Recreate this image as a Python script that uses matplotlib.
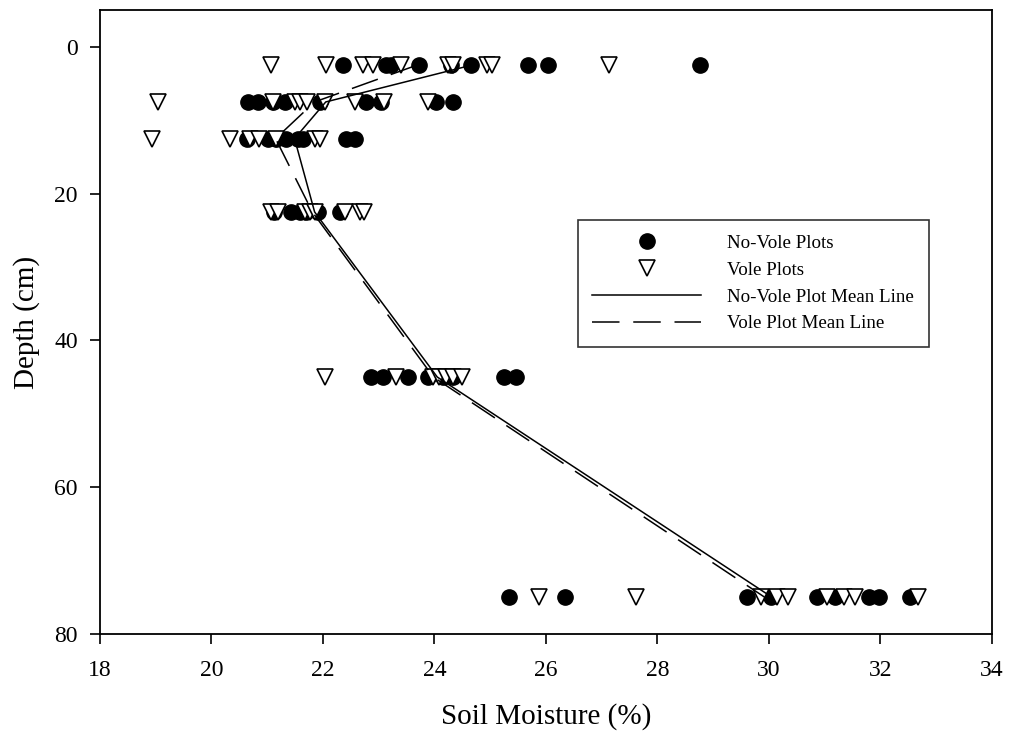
import matplotlib
matplotlib.use('Agg')
import matplotlib.pyplot as plt
import numpy as np

# depths (cm) of each sampling layer
depths = [2.5, 7.5, 12.5, 22.5, 45, 75]

# soil moisture (%), one list per depth
novole_2_5 = [22.36, 23.13, 23.22, 23.72, 24.30, 24.66, 25.67, 26.03, 28.77]
novole_7_5 = [20.66, 20.83, 21.10, 21.31, 21.94, 22.78, 23.04, 24.03, 24.33]
novole_12_5 = [20.63, 21.01, 21.15, 21.34, 21.55, 21.65, 22.42, 22.58]
novole_22_5 = [21.12, 21.43, 21.58, 21.69, 21.91, 22.30]
novole_45 = [22.86, 23.07, 23.52, 23.88, 24.15, 24.33, 25.25, 25.46]
novole_75 = [25.34, 26.34, 29.61, 30.03, 30.86, 31.19, 31.79, 31.97, 32.53]

vole_2_5 = [21.07, 22.06, 22.71, 22.89, 23.40, 24.25, 24.33, 24.95, 25.04, 27.13]
vole_7_5 = [19.04, 21.10, 21.49, 21.58, 21.72, 22.03, 22.58, 23.10, 23.89]
vole_12_5 = [18.93, 20.33, 20.69, 20.86, 21.16, 21.85, 21.94]
vole_22_5 = [21.07, 21.19, 21.67, 21.76, 21.85, 22.39, 22.66, 22.74]
vole_45 = [22.03, 23.31, 23.97, 24.09, 24.21, 24.33, 24.50]
vole_75 = [25.88, 27.61, 29.85, 30.15, 30.35, 31.04, 31.34, 31.55, 32.68]

# mean lines
novole_mean = [24.66, 22.05, 21.49, 21.85, 24.05, 30.05]
vole_mean = [23.68, 21.85, 21.15, 21.81, 23.98, 29.92]


def main():
    plt.rcParams['font.family'] = ['Liberation Serif', 'DejaVu Serif']

    novole = [novole_2_5, novole_7_5, novole_12_5, novole_22_5, novole_45, novole_75]
    vole = [vole_2_5, vole_7_5, vole_12_5, vole_22_5, vole_45, vole_75]

    nx, ny = [], []
    for d, vals in zip(depths, novole):
        nx += vals
        ny += [d] * len(vals)
    vx, vy = [], []
    for d, vals in zip(depths, vole):
        vx += vals
        vy += [d] * len(vals)

    fig = plt.figure(figsize=(10.12, 7.31), dpi=100)
    ax = fig.add_axes([0.0988, 0.133, 0.8814, 0.853])

    ax.plot(nx, ny, 'o', color='black', markersize=11, label='No-Vole Plots', zorder=3)
    ax.plot(vx, vy, 'v', markerfacecolor='white', markeredgecolor='black',
            markeredgewidth=1.2, markersize=11, label='Vole Plots', zorder=4)
    ax.plot(novole_mean, depths, '-', color='black', lw=1.1,
            label='No-Vole Plot Mean Line', zorder=5)
    ax.plot(vole_mean, depths, color='black', lw=1.1, dashes=(18, 9),
            label='Vole Plot Mean Line', zorder=5)

    ax.set_xlim(18, 34)
    ax.set_ylim(80, -5)
    ax.set_xticks(np.arange(18, 35, 2))
    ax.set_yticks(np.arange(0, 81, 20))
    ax.tick_params(direction='out', length=7, width=1.2, labelsize=17,
                   top=False, right=False)
    ax.tick_params(axis='x', pad=12)
    ax.tick_params(axis='y', pad=9)
    for s in ax.spines.values():
        s.set_linewidth(1.3)

    ax.set_xlabel('Soil Moisture (%)', fontsize=21, labelpad=16)
    ax.set_ylabel('Depth (cm)', fontsize=21, labelpad=10)

    leg = ax.legend(loc='upper left', bbox_to_anchor=(0.536, 0.663), fontsize=13.7,
                    frameon=True, fancybox=False, handlelength=5.7,
                    handletextpad=1.4, borderpad=0.75, labelspacing=0.5,
                    borderaxespad=0)
    leg.get_frame().set_edgecolor('black')
    leg.get_frame().set_linewidth(1.2)

    fig.savefig('out.png', dpi=100)


if __name__ == '__main__':
    main()
